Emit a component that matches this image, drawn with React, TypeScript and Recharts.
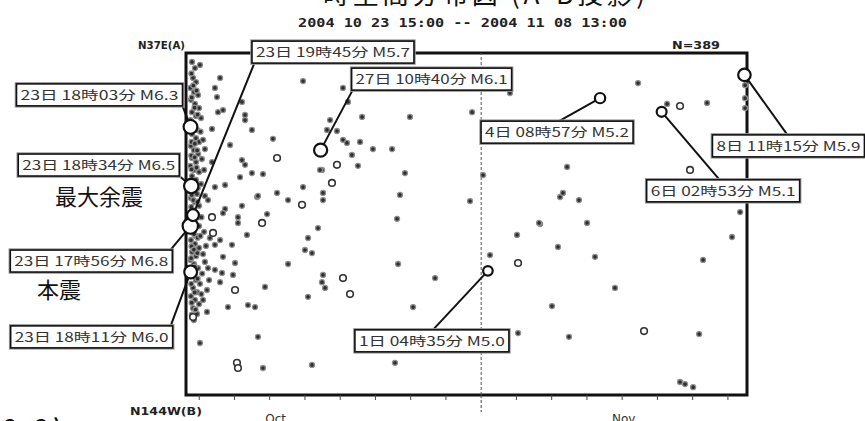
import React from 'react';
import { ScatterChart, Scatter, XAxis, YAxis, ReferenceArea, ReferenceLine } from 'recharts';

// time axis: hours since 2004-10-23 15:00, position axis: 0 = B (N144W) .. 100 = A (N37E)
const SPAN_HOURS = 382;
const dayTicks = [9, 33, 57, 81, 105, 129, 153, 177, 201, 225, 249, 273, 297, 321, 345, 369];
const monthTicks = [61, 298];
const monthNames = ['Oct', 'Nov'];
const NOV_1 = 201;

// small aftershocks [hours, position]
const minorEvents: [number, number][] = [
  // dense cluster right after the mainshock
  [4.1, 97.4], [6.1, 95.6], [4.8, 92.7], [6.8, 91.5], [3.0, 89.8], [5.4, 88.6], [8.2, 87.7],
  [3.4, 86.3], [6.1, 85.1], [8.9, 83.9], [4.1, 82.7], [6.8, 81.6], [3.0, 80.4], [5.4, 79.2],
  [10.2, 81.0], [7.5, 77.5], [4.1, 76.3], [6.8, 75.1], [8.9, 74.0], [3.4, 72.8], [5.4, 71.6],
  [8.2, 70.5], [4.1, 69.3], [6.8, 68.1], [3.0, 67.0], [5.4, 65.8], [8.9, 65.2], [4.1, 64.0],
  [6.8, 62.9], [10.2, 61.7], [4.8, 59.9], [7.5, 58.8], [3.4, 57.6], [6.1, 56.4], [8.9, 55.3],
  [4.1, 54.1], [6.8, 52.9], [3.0, 51.8], [5.4, 50.6], [8.9, 49.4], [4.1, 47.7], [6.8, 46.5],
  [3.4, 45.3], [6.1, 44.2], [8.9, 43.0], [4.1, 41.8], [6.8, 40.6], [3.0, 39.5], [5.4, 38.3],
  [8.2, 37.1], [4.1, 34.8], [6.8, 33.6], [9.5, 32.5], [4.8, 31.3], [7.5, 30.1], [3.4, 28.9],
  [6.1, 27.8], [8.9, 26.6], [4.8, 25.4], [7.5, 23.7], [5.4, 21.9], [11.6, 41.2], [12.9, 38.9],
  [14.3, 30.7], [11.6, 27.8], [12.3, 47.7], [13.6, 43.6], [12.9, 58.2], [11.6, 74.6], [12.3, 65.8],
  [16.3, 45.9], [15.0, 37.1], [15.7, 33.6],
  [3.7, 94.0], [5.0, 90.5], [7.2, 89.0], [3.9, 87.0], [5.8, 84.0], [7.9, 82.0], [3.6, 78.5],
  [6.2, 78.0], [3.8, 74.0], [6.0, 73.5], [7.6, 71.5], [3.6, 70.0], [5.9, 69.5], [3.8, 66.0],
  [7.2, 66.5], [3.5, 62.5], [5.6, 61.0], [8.0, 60.5], [3.9, 58.5], [5.0, 57.0], [7.8, 56.5],
  [3.6, 55.0], [5.5, 53.5], [8.2, 52.0], [3.7, 48.5], [5.6, 47.0], [8.0, 46.0], [3.8, 43.5],
  [5.4, 42.5], [7.7, 41.5], [3.5, 40.0], [6.0, 37.5], [3.7, 36.0], [5.8, 35.5], [7.9, 34.0],
  [3.6, 32.5], [5.9, 30.0], [3.9, 27.0], [6.5, 25.0], [4.0, 23.5], [10.5, 52.0], [10.8, 69.0],
  [11.0, 35.5], [10.4, 29.5], [9.8, 46.5], [9.9, 77.0],
  // first days
  [9.5, 96.5], [23.2, 92.7], [19.7, 89.8], [21.1, 87.1], [25.2, 83.3], [21.8, 82.7], [38.1, 85.7],
  [40.2, 81.9], [40.2, 80.4], [79.7, 91.8], [44.9, 77.5], [17.7, 77.8], [59.2, 74.9], [30.0, 73.1],
  [12.9, 71.9], [38.1, 68.7], [40.2, 67.3], [17.7, 68.1], [44.9, 64.9], [52.4, 64.6], [36.8, 63.7],
  [26.6, 61.4], [19.7, 60.8], [62.0, 59.1], [48.4, 57.9], [69.5, 57.0], [38.1, 55.3], [26.6, 54.4],
  [35.4, 52.0], [55.2, 52.9], [25.2, 53.2], [15.0, 57.0], [79.7, 60.8], [93.3, 59.1], [93.3, 57.0],
  [92.6, 65.8], [49.0, 58.2], [23.2, 45.3], [41.5, 46.8], [31.3, 43.9], [19.7, 43.9], [25.2, 40.4],
  [33.4, 38.6], [19.7, 36.6], [24.5, 35.7], [32.0, 35.1], [23.2, 33.0], [28.6, 25.7], [42.2, 26.3],
  [47.0, 25.7], [14.3, 24.3], [53.8, 31.6], [35.4, 50.3], [49.0, 17.0], [9.5, 15.2], [52.4, 7.9],
  // around the 27th
  [106.9, 89.8], [110.3, 85.7], [119.9, 81.3], [152.5, 81.3], [194.8, 82.7], [220.6, 88.3],
  [102.8, 77.2], [106.9, 74.6], [109.6, 73.7], [118.5, 74.0], [127.3, 71.9], [140.3, 71.9],
  [113.0, 70.2], [117.1, 67.0], [149.1, 64.9], [91.3, 65.8], [145.7, 58.5], [193.4, 56.7],
  [202.3, 64.3], [143.7, 51.5], [89.9, 48.8], [83.1, 45.9], [81.0, 42.4], [85.8, 41.5],
  [69.5, 38.3], [93.3, 35.1], [92.6, 33.0], [94.7, 31.3], [83.1, 28.7], [144.4, 38.3],
  [169.6, 34.2], [154.6, 25.7], [85.8, 8.8], [142.3, 9.4], [96.0, 77.5], [98.1, 80.4],
  // November
  [207.0, 40.9], [225.4, 46.8], [226.1, 18.1], [241.1, 50.0], [273.1, 50.3], [253.3, 43.3],
  [278.5, 40.4], [292.1, 31.3], [249.2, 26.0], [260.8, 17.0], [349.4, 17.8], [352.1, 39.5],
  [371.8, 46.2], [336.4, 3.8], [339.8, 3.2], [345.3, 2.3], [307.8, 91.2], [354.8, 85.4],
  [327.6, 85.1], [259.5, 66.7], [254.7, 57.9], [256.7, 59.1], [267.6, 57.0], [240.4, 50.3],
  [377.3, 53.5], [380.7, 90.6], [380.7, 86.8], [380.7, 83.9],
];

// M4-class events drawn as open circles [hours, position]
const moderateEvents: [number, number][] = [
  [62.0, 69.3], [17.7, 52.0], [102.8, 67.3], [99.4, 62.0], [79.0, 55.6], [51.8, 50.3],
  [18.4, 47.4], [106.9, 34.2], [111.7, 29.5], [33.4, 30.7], [4.8, 22.8], [34.7, 9.4],
  [35.4, 7.9], [226.1, 38.6], [311.9, 18.7], [336.4, 84.5], [343.2, 65.8],
];

// labelled large events
const majorLabels = [
  '23日 17時56分 M6.8', '23日 18時03分 M6.3', '23日 18時11分 M6.0', '23日 18時34分 M6.5',
  '23日 19時45分 M5.7', '27日 10時40分 M6.1', '1日 04時35分 M5.0', '4日 08時57分 M5.2',
  '6日 02時53分 M5.1', '8日 11時15分 M5.9',
];
const majorHours = [2.93, 3.05, 3.18, 3.57, 4.75, 91.67, 205.58, 281.95, 323.88, 380.25];
const majorPos = [49.4, 78.4, 36.0, 61.1, 52.6, 71.6, 36.3, 86.8, 82.8, 93.6];
const majorMag = [6.8, 6.3, 6.0, 6.5, 5.7, 6.1, 5.0, 5.2, 5.1, 5.9];

// callout placement relative to the event mark: [boxLeft, boxTop, boxWidth, lineEndX, lineEndY]
const callouts = [
  [-180, 24, 162, -20, 24],
  [-174, -43, 166, -8, -21],
  [-180, 54, 162, -20, 54],
  [-173, -32, 161, -12, -10],
  [59, -174, 162, 61, -151],
  [31, -82, 160, 32, -60],
  [-133, 59, 154, -55, 59],
  [-119, 23, 152, -41, 23],
  [-15, 68, 153, 58, 68],
  [-32, 60, 152, 43, 60],
];

const minorData = minorEvents.map(([h, p]) => ({ h, p }));
const moderateData = moderateEvents.map(([h, p]) => ({ h, p }));
const majorData = majorLabels.map((label, i) => ({
  h: majorHours[i],
  p: majorPos[i],
  mag: majorMag[i],
  label,
  box: callouts[i],
}));

const CJK = '"Noto Sans CJK JP", "Noto Sans", sans-serif';

const MinorDot = ({ cx, cy }: any) => (
  <circle cx={cx} cy={cy} r={2.5} fill="#2e2e2e" stroke="#8f8f8f" strokeWidth={1.3} />
);

const ModerateDot = ({ cx, cy }: any) => (
  <circle cx={cx} cy={cy} r={3.3} fill="#fff" stroke="#333" strokeWidth={1.6} />
);

const MajorMark = ({ cx, cy, payload }: any) => {
  const [bx, by, bw, lx, ly] = payload.box;
  const r = 1.6 * payload.mag - 3.2;
  return (
    <g>
      <line x1={cx} y1={cy} x2={cx + lx} y2={cy + ly} stroke="#111" strokeWidth={2} />
      <rect x={cx + bx} y={cy + by} width={bw} height={22} fill="#fff" stroke="#999" strokeWidth={3.5} />
      <rect x={cx + bx} y={cy + by} width={bw} height={22} fill="#fff" stroke="#111" strokeWidth={1.6} />
      <text
        x={cx + bx + 4}
        y={cy + by + 16}
        fontSize={12.5}
        fontFamily={CJK}
        fill="#333"
        textLength={bw - 8}
        lengthAdjust="spacingAndGlyphs"
      >
        {payload.label}
      </text>
      <circle cx={cx} cy={cy} r={r} fill="#fff" stroke="#111" strokeWidth={2.2} />
    </g>
  );
};

const AxisTick = ({ x, y, payload }: any) => {
  const v = payload.value;
  const m = monthTicks.indexOf(v);
  if (m >= 0) {
    return (
      <text x={x} y={y + 28} textAnchor="middle" fontSize={12} fontFamily="DejaVu Sans" fill="#333">
        {monthNames[m]}
      </text>
    );
  }
  if (v === NOV_1) {
    return <line x1={x} y1={y} x2={x} y2={y + 17} stroke="#444" strokeWidth={1} strokeDasharray="3 2" />;
  }
  return <line x1={x} y1={y} x2={x} y2={y + 5} stroke="#444" strokeWidth={1} />;
};

export default function App() {
  return (
    <div style={{ position: 'absolute', left: 0, top: 0, background: '#fff' }}>
      <svg width={865} height={421} style={{ position: 'absolute', left: 0, top: 0 }}>
        <text x={323} y={4} fontSize={26} fontFamily={CJK} fill="#111" textLength={322} lengthAdjust="spacing">
          時空間分布図 (A-B投影)
        </text>
        <text
          x={298}
          y={27}
          fontSize={13}
          fontWeight="bold"
          fontFamily="DejaVu Sans Mono"
          fill="#222"
          textLength={329}
          lengthAdjust="spacingAndGlyphs"
        >
          2004 10 23 15:00 -- 2004 11 08 13:00
        </text>
        <text x={138} y={49} fontSize={10} fontWeight="bold" fontFamily="DejaVu Sans" fill="#222" textLength={47} lengthAdjust="spacingAndGlyphs">
          N37E(A)
        </text>
        <text x={672} y={49} fontSize={10} fontWeight="bold" fontFamily="DejaVu Sans" fill="#222" textLength={48} lengthAdjust="spacingAndGlyphs">
          N=389
        </text>
        <text x={130} y={415} fontSize={10} fontWeight="bold" fontFamily="DejaVu Sans" fill="#222" textLength={72} lengthAdjust="spacingAndGlyphs">
          N144W(B)
        </text>
        <text x={4} y={435} fontSize={22} fontWeight="bold" fontFamily={CJK} fill="#111">
          2 - 3 )
        </text>
      </svg>
      <div style={{ position: 'absolute', left: 0, top: 0 }}>
        <ScatterChart width={865} height={421} margin={{ top: 53, right: 118, bottom: 0, left: 186 }}>
          <XAxis
            type="number"
            dataKey="h"
            domain={[0, SPAN_HOURS]}
            ticks={[...dayTicks, ...monthTicks]}
            interval={0}
            height={26}
            axisLine={false}
            tickLine={false}
            tickSize={0}
            tickMargin={0}
            tick={<AxisTick />}
          />
          <YAxis type="number" dataKey="p" domain={[0, 100]} hide />
          <ReferenceLine x={NOV_1} stroke="#555" strokeWidth={1} strokeDasharray="3 2" />
          <ReferenceArea x1={0} x2={SPAN_HOURS} y1={0} y2={100} fill="none" fillOpacity={0} stroke="#111" strokeWidth={3} />
          <Scatter data={minorData} shape={<MinorDot />} isAnimationActive={false} />
          <Scatter data={moderateData} shape={<ModerateDot />} isAnimationActive={false} />
          <Scatter data={majorData} shape={<MajorMark />} isAnimationActive={false} />
        </ScatterChart>
      </div>
      <div style={{ position: 'absolute', left: 0, top: 0, pointerEvents: 'none' }}>
        <svg width={865} height={421}>
          <text x={55} y={205} fontSize={22} fontFamily={CJK} fill="#111">最大余震</text>
          <text x={37} y={298} fontSize={22} fontFamily={CJK} fill="#111">本震</text>
        </svg>
      </div>
    </div>
  );
}
